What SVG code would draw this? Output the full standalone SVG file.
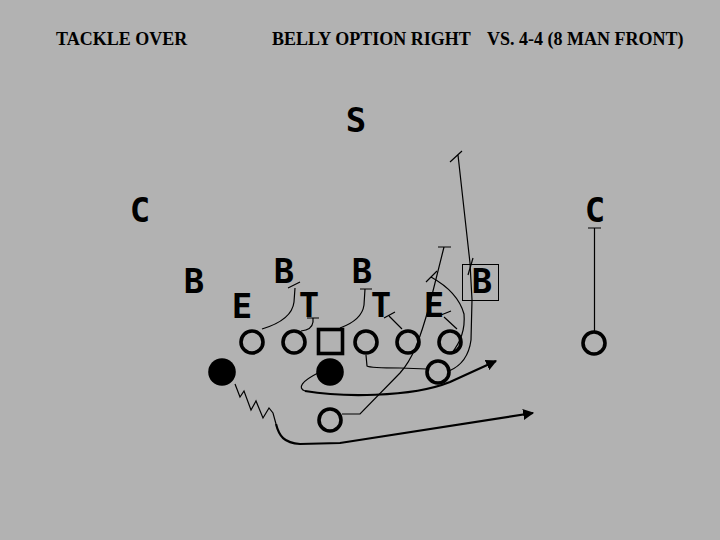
<svg xmlns="http://www.w3.org/2000/svg" width="720" height="540" viewBox="0 0 720 540">
<style>
.title{font-family:"Liberation Serif","Times New Roman",serif;font-weight:bold;font-size:18px;fill:#000}
.def{font-family:"DejaVu Sans Mono","DejaVu Sans",monospace;font-weight:bold;font-size:34px;fill:#000;text-anchor:middle}
.pl{fill:none;stroke:#000;stroke-width:3.6}
.pf{fill:#000}
.thin{fill:none;stroke:#000;stroke-width:1.2}
.thick{fill:none;stroke:#000;stroke-width:2.2}
</style>
<defs>
<marker id="arr" viewBox="0 0 10 10" refX="9" refY="5" markerWidth="5" markerHeight="5" orient="auto" markerUnits="strokeWidth">
<path d="M0,0 L10,5 L0,10 Z" fill="#000"/>
</marker>
</defs>
<rect width="720" height="540" fill="#b2b2b2"/>
<g id="titles">
<text class="title" x="56" y="45">TACKLE OVER</text>
<text class="title" x="272" y="45">BELLY OPTION RIGHT</text>
<text class="title" x="487" y="45">VS. 4-4 (8 MAN FRONT)</text>
</g>
<g id="defense">
<g id="d-s"><text class="def" x="356" y="132">S</text></g>
<g id="d-cl"><text class="def" x="140" y="222">C</text></g>
<g id="d-cr"><text class="def" x="595" y="222">C</text></g>
<g id="d-bl"><text class="def" x="194" y="293">B</text></g>
<g id="d-el"><text class="def" x="242" y="318">E</text></g>
<g id="d-b2"><text class="def" x="284" y="283">B</text></g>
<g id="d-t1"><text class="def" x="309" y="317">T</text></g>
<g id="d-b3"><text class="def" x="362" y="283">B</text></g>
<g id="d-t2"><text class="def" x="381" y="317">T</text></g>
<g id="d-er"><text class="def" x="434" y="317">E</text></g>
<g id="d-br"><rect x="462.5" y="264.5" width="36" height="36" fill="none" stroke="#000" stroke-width="1"/><text class="def" x="482" y="293">B</text></g>
</g>
<g id="offense">
<g id="o-lt"><circle class="pl" cx="252" cy="342" r="11"/></g>
<g id="o-lg"><circle class="pl" cx="294" cy="342" r="11"/></g>
<g id="o-c"><rect class="pl" x="318.5" y="329.5" width="24" height="24"/></g>
<g id="o-rg"><circle class="pl" cx="366" cy="342" r="11"/></g>
<g id="o-rt"><circle class="pl" cx="408" cy="342" r="11"/></g>
<g id="o-te"><circle class="pl" cx="450" cy="342" r="11"/></g>
<g id="o-wr"><circle class="pl" cx="594" cy="343" r="11"/></g>
<g id="o-hb"><circle class="pf" cx="222" cy="372" r="13.8"/></g>
<g id="o-qb"><circle class="pf" cx="330" cy="372" r="13.8"/></g>
<g id="o-rb"><circle class="pl" cx="438" cy="372" r="11"/></g>
<g id="o-fb"><circle class="pl" cx="330" cy="420" r="11"/></g>
</g>
<g id="connectors">
<path class="thin" d="M594.5,331 L594.5,228 M588,228 L601,228"/>
<path class="thin" d="M262,329 Q292,320 294,302 L295,288 M288,288 L300,282"/>
<path class="thin" d="M301,331 Q312,330 313,322 L313,318 M307,318 L319,318"/>
<path class="thin" d="M340,328 Q362,320 364,305 L365,289 M360,289 L372,289"/>
<path class="thin" d="M366,355 L367,366 Q370,368 400,368 L427,369"/>
<path class="thin" d="M402,329 L389,316 M384,318 L395,312"/>
<path class="thin" d="M457,329 L444,317 M441,315 L451,311"/>
<path class="thin" d="M451,354 Q466,336 464,314 Q458,292 431,277 M426,282 L437,271"/>
<path class="thin" d="M342,414 L360,414 L400,373 C412,360 420,340 430,303 L444,247 M438,247 L451,247"/>
<path class="thin" d="M449,371 Q468,363 471,340 L472,300 L470,263 L458,155 M450,162 L462,151"/>
<path class="thin" d="M468,275 L473,258"/>
<path class="thin" d="M318,373 C302,381 297,388 305,391"/>
<path class="thick" d="M305,391 C340,397 410,398 450,382 L496,361" marker-end="url(#arr)"/>
<path class="thin" d="M235,384 L240,397 L244,391 L251,410 L256,401 L263,418 L269,408 L273,413 L276,424"/>
<path class="thick" d="M276,424 C279,436 284,443 300,444 L340,443 L533,413" marker-end="url(#arr)"/>
</g>
</svg>
